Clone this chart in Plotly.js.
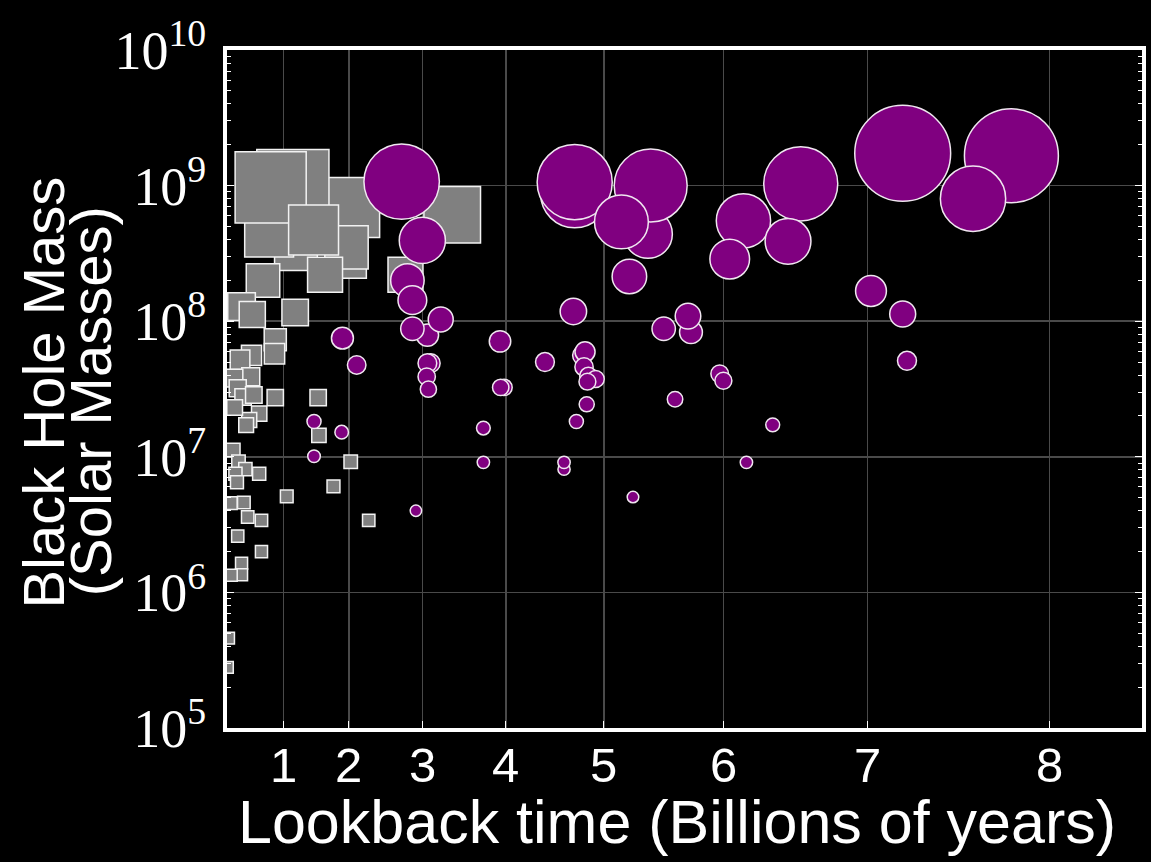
<!DOCTYPE html>
<html><head><meta charset="utf-8">
<script src="https://cdn.plot.ly/plotly-3.0.1.min.js"></script>
<style>html,body{margin:0;padding:0;background:#000;}</style>
</head><body><div id="chart" style="width:1151px;height:862px;"></div>
<script>
// Local black holes (gray squares): redshift and mass (solar masses)
const localZ = [0.297,0.163,0.089,0.159,0.159,0.093,0.058,0.060,0.116,0.131,0.050,0.236,
  0.022,0.036,0.092,0.066,0.065,0.035,0.020,0.034,0.012,0.017,0.024,0.038,0.066,0.122,
  0.045,0.032,0.028,0.013,0.123,0.011,0.018,0.027,0.045,0.014,0.016,0.081,0.025,0.008,
  0.030,0.048,0.017,0.048,0.022,0.022,0.0085,0.005,0.0035,0.1645,0.142,0.188];
const localMass = [6.1e8,6.9e8,1.0e9,2.9e8,3.5e8,3.4e8,4.5e8,9.7e8,4.7e8,2.2e8,2.0e8,2.2e8,
  1.28e8,1.12e8,1.16e8,7.3e7,5.75e7,5.6e7,5.2e7,3.9e7,3.8e7,3.2e7,2.76e7,2.86e7,2.73e7,2.73e7,
  2.08e7,1.87e7,1.71e7,2.31e7,1.44e7,1.12e7,9.2e6,8.1e6,7.5e6,7.5e6,6.5e6,5.1e6,4.6e6,4.55e6,
  3.6e6,3.4e6,2.6e6,2.0e6,1.64e6,1.35e6,1.34e6,4.6e5,2.8e5,9.2e6,6.05e6,3.4e6];

// Distant black holes (purple circles)
const distantZ = [0.231,0.258,0.2385,0.245,0.2646,0.245,0.282,0.269,0.2646,0.2637,0.2659,
  0.1537,0.1723,0.1166,0.1527,0.1166,0.2496,0.3594,0.3646,0.3603,0.3377,0.3377,0.4181,0.4552,
  0.467,0.4704,0.4691,0.4748,0.4843,0.4735,0.4726,0.4591,0.443,0.443,0.533,0.4569,0.4569,
  0.5526,0.5561,0.5179,0.5283,0.6087,0.6048,0.5731,0.5879,0.6462,0.651,0.6811,0.7154,0.752,
  0.6772,0.6593,0.7354,0.8437,0.8851,0.8907,0.8851,1.027,0.9769];
const distantMass = [1.07e9,3.94e8,2.0e8,1.43e8,7.9e7,8.8e7,1.03e8,4.9e7,4.9e7,3.9e7,3.15e7,
  7.5e7,4.75e7,1.82e7,1.52e7,1.01e7,4.0e6,7.1e7,3.25e7,3.25e7,1.63e7,9.1e6,5.0e7,1.18e8,
  5.6e7,5.95e7,4.6e7,3.94e7,3.75e7,3.58e7,2.44e7,1.82e7,8.1e6,9.1e6,5.05e6,8.7e8,1.06e9,
  4.4e8,1.0e9,5.4e8,2.14e8,8.3e7,1.09e8,8.8e7,2.66e7,4.1e7,3.64e7,9.1e6,1.72e7,1.03e9,
  5.5e8,2.87e8,3.88e8,1.67e8,1.13e8,5.1e7,1.73e9,1.66e9,8.0e8];

// Axis ticks: lookback time (Gyr) positioned at the matching redshift
const timeTickZ = [0.077,0.162,0.258,0.367,0.495,0.651,0.839,1.077];
const timeTickLabels = ['1','2','3','4','5','6','7','8'];
const massTickVals = [1e5,1e6,1e7,1e8,1e9,1e10];
const massTickLabels = ['10<sup>5</sup>','10<sup>6</sup>','10<sup>7</sup>','10<sup>8</sup>','10<sup>9</sup>','10<sup>10</sup>'];

const minorVals = [];
for (let n = 5; n < 10; n++) for (let k = 2; k <= 9; k++) minorVals.push(k * Math.pow(10, n));

const lineW = 1.5;
const circleSize = distantMass.map(m => Math.sqrt(144 + 5.4e-6 * m) - lineW);
const squareSize = localMass.map(m => Math.sqrt(175 + 5.25e-6 * m) - lineW);

const traces = [
  {x: localZ, y: localMass, type: 'scatter', mode: 'markers',
   marker: {symbol: 'square', color: '#808080', opacity: 1, size: squareSize, line: {color: '#f2f2f2', width: lineW}},
   hoverinfo: 'skip'},
  {x: distantZ, y: distantMass, type: 'scatter', mode: 'markers',
   marker: {symbol: 'circle', color: '#800080', opacity: 1, size: circleSize, line: {color: '#f0e6f0', width: lineW}},
   hoverinfo: 'skip'}
];

const sansFont = 'Liberation Sans, Arial, sans-serif';
const tickAnnotations = timeTickZ.map((z, i) => ({
  text: timeTickLabels[i], xref: 'x', yref: 'paper', x: z, y: -0.0546,
  xanchor: 'center', yanchor: 'middle', showarrow: false,
  font: {family: sansFont, size: 49, color: '#ffffff'}
}));

const layout = {
  width: 1151, height: 862,
  margin: {l: 227, r: 9, t: 50, b: 134},
  paper_bgcolor: '#000', plot_bgcolor: '#000',
  showlegend: false,
  xaxis: {
    range: [0.003, 1.1975], tickmode: 'array', tickvals: timeTickZ, ticktext: timeTickLabels,
    showticklabels: false,
    ticks: 'inside', ticklen: 7, tickwidth: 1.2, tickcolor: '#ffffff',
    showgrid: true, gridcolor: '#4a4a4a', gridwidth: 1.5,
    showline: true, linecolor: '#ffffff', linewidth: 4, mirror: true, zeroline: false
  },
  yaxis: {
    type: 'log', range: [5, 10], tickmode: 'array', tickvals: massTickVals, ticktext: massTickLabels,
    ticks: 'inside', ticklen: 7, tickwidth: 1.2, tickcolor: '#ffffff',
    tickfont: {family: 'Liberation Serif, Times New Roman, serif', size: 54, color: '#ffffff'},
    ticklabelstandoff: 6,
    minor: {tickmode: 'array', tickvals: minorVals, ticks: 'inside', ticklen: 4, tickwidth: 1, tickcolor: '#ffffff', showgrid: false},
    showgrid: true, gridcolor: '#4a4a4a', gridwidth: 1.5,
    showline: true, linecolor: '#ffffff', linewidth: 4, mirror: 'allticks', zeroline: false
  },
  annotations: tickAnnotations.concat([
    {text: 'Lookback time (Billions of years)', xref: 'paper', yref: 'paper', x: 0.4918, y: -0.138,
     xanchor: 'center', yanchor: 'middle', showarrow: false,
     font: {family: sansFont, size: 61, color: '#ffffff'}},
    {text: 'Black Hole Mass', xref: 'paper', yref: 'paper', x: -0.2005, y: 0.494, textangle: -90,
     xanchor: 'center', yanchor: 'middle', showarrow: false,
     font: {family: sansFont, size: 58, color: '#ffffff'}},
    {text: '(Solar Masses)', xref: 'paper', yref: 'paper', x: -0.1497, y: 0.482, textangle: -90,
     xanchor: 'center', yanchor: 'middle', showarrow: false,
     font: {family: sansFont, size: 58, color: '#ffffff'}}
  ])
};

Plotly.newPlot('chart', traces, layout, {staticPlot: true, displayModeBar: false});
</script>
</body></html>
